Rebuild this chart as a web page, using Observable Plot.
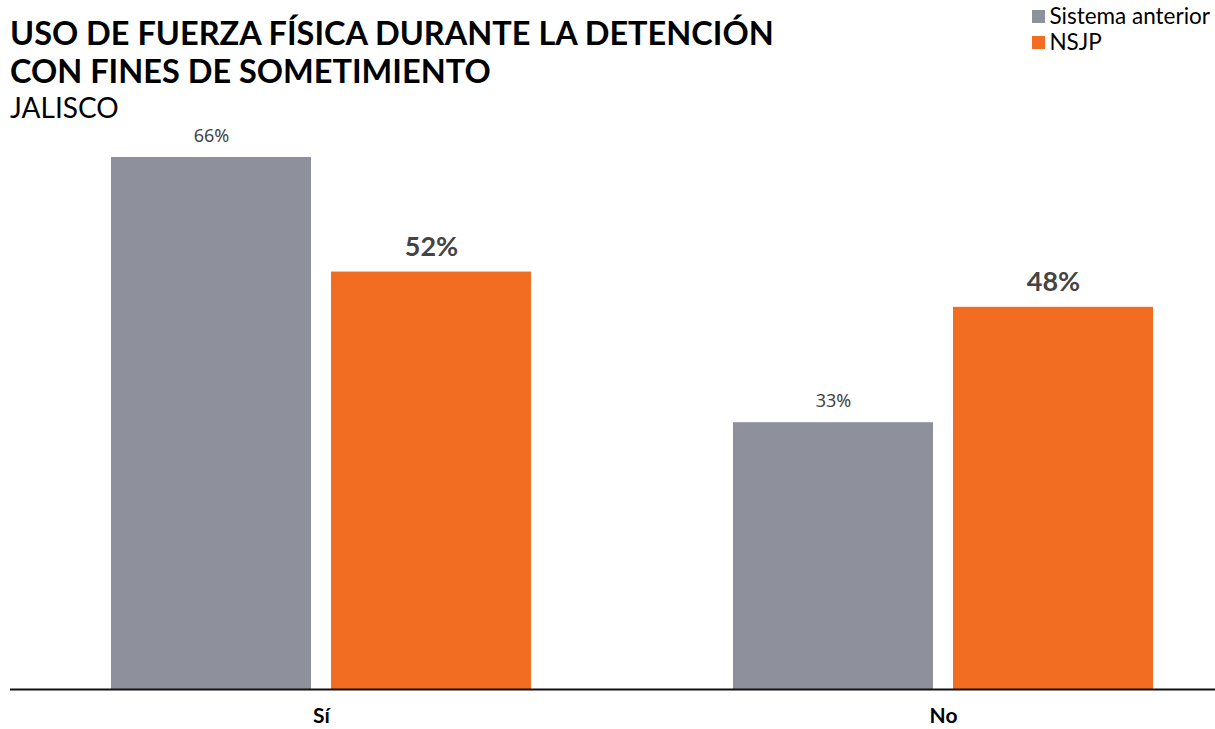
<!DOCTYPE html>
<html>
<head>
<meta charset="utf-8">
<script src="https://cdn.jsdelivr.net/npm/d3@7"></script>
<script src="https://cdn.jsdelivr.net/npm/@observablehq/plot@0.6"></script>
<style>
  html, body { margin: 0; padding: 0; background: #fff; }
  body { font-family: Lato, "Noto Sans", sans-serif; }
  #wrap { position: relative; width: 1215px; height: 729px; overflow: hidden; }
  #header { position: relative; height: 115px; }
  #title { position: absolute; left: 10px; top: 14px; font-weight: 700; font-size: 32.5px; line-height: 38px; color: #000; }
  #subtitle { position: absolute; left: 10px; top: 91px; font-size: 28px; line-height: 32px; color: #000; z-index: 1; }
  #legend { position: absolute; right: 5px; top: 3px; font-size: 22.5px; line-height: 26px; color: #000; }
  .item { display: flex; align-items: center; }
  .sw { width: 13px; height: 13px; margin-right: 4px; }
  #chart svg { display: block; }
</style>
</head>
<body>
<div id="wrap">
  <div id="header">
    <div id="title">USO DE FUERZA FÍSICA DURANTE LA DETENCIÓN<br>CON FINES DE SOMETIMIENTO</div>
    <div id="subtitle">JALISCO</div>
    <div id="legend"></div>
  </div>
  <div id="chart"></div>
</div>
<script>
const categories = ["Sí", "No"];
const series = ["Sistema anterior", "NSJP"];
const sistemaAnterior = [66.4, 33.3];
const nsjp = [52.1, 47.7];
const colors = ["#8e919c", "#f26c22"];

const data = [];
categories.forEach((c, i) => {
  data.push({categoria: c, serie: series[0], valor: sistemaAnterior[i]});
  data.push({categoria: c, serie: series[1], valor: nsjp[i]});
});

const legend = document.getElementById("legend");
series.forEach((s, i) => {
  const d = document.createElement("div");
  d.className = "item";
  d.innerHTML = `<span class="sw" style="background:${colors[i]}"></span><span>${s}</span>`;
  legend.appendChild(d);
});

const fmt = d => `${Math.round(d.valor)}%`;

const chart = Plot.plot({
  width: 1215,
  height: 614,
  marginLeft: 10,
  marginRight: 0,
  marginTop: 42,
  marginBottom: 40,
  style: {fontFamily: "Lato, 'Noto Sans', sans-serif", background: "transparent", overflow: "visible"},
  fx: {domain: categories, paddingInner: 0, paddingOuter: -0.0322, align: 0, label: null},
  x: {domain: series, paddingInner: 0.0906, paddingOuter: 0.4538, align: 0.5, axis: null},
  y: {domain: [0, 66.4], nice: false, axis: null},
  color: {domain: series, range: colors},
  marks: [
    Plot.barY(data, {fx: "categoria", x: "serie", y: "valor", fill: "serie"}),
    Plot.text(data.filter(d => d.serie === series[0]), {
      fx: "categoria", x: "serie", y: "valor", text: fmt, dy: -21,
      fontSize: 18, fontFamily: "'Noto Sans', 'Open Sans', sans-serif", fill: "#444", style: "letter-spacing:2px"
    }),
    Plot.text(data.filter(d => d.serie === series[1]), {
      fx: "categoria", x: "serie", y: "valor", text: fmt, dy: -25,
      fontSize: 27, fontWeight: 700, fill: "#444"
    }),
    Plot.ruleY([0], {stroke: "#111", strokeWidth: 2}),
    Plot.axisFx({anchor: "bottom", tickSize: 0, tickPadding: 19, fontSize: 21, fontWeight: 700, fill: "#000", label: null})
  ]
});
document.getElementById("chart").appendChild(chart);
</script>
</body>
</html>
